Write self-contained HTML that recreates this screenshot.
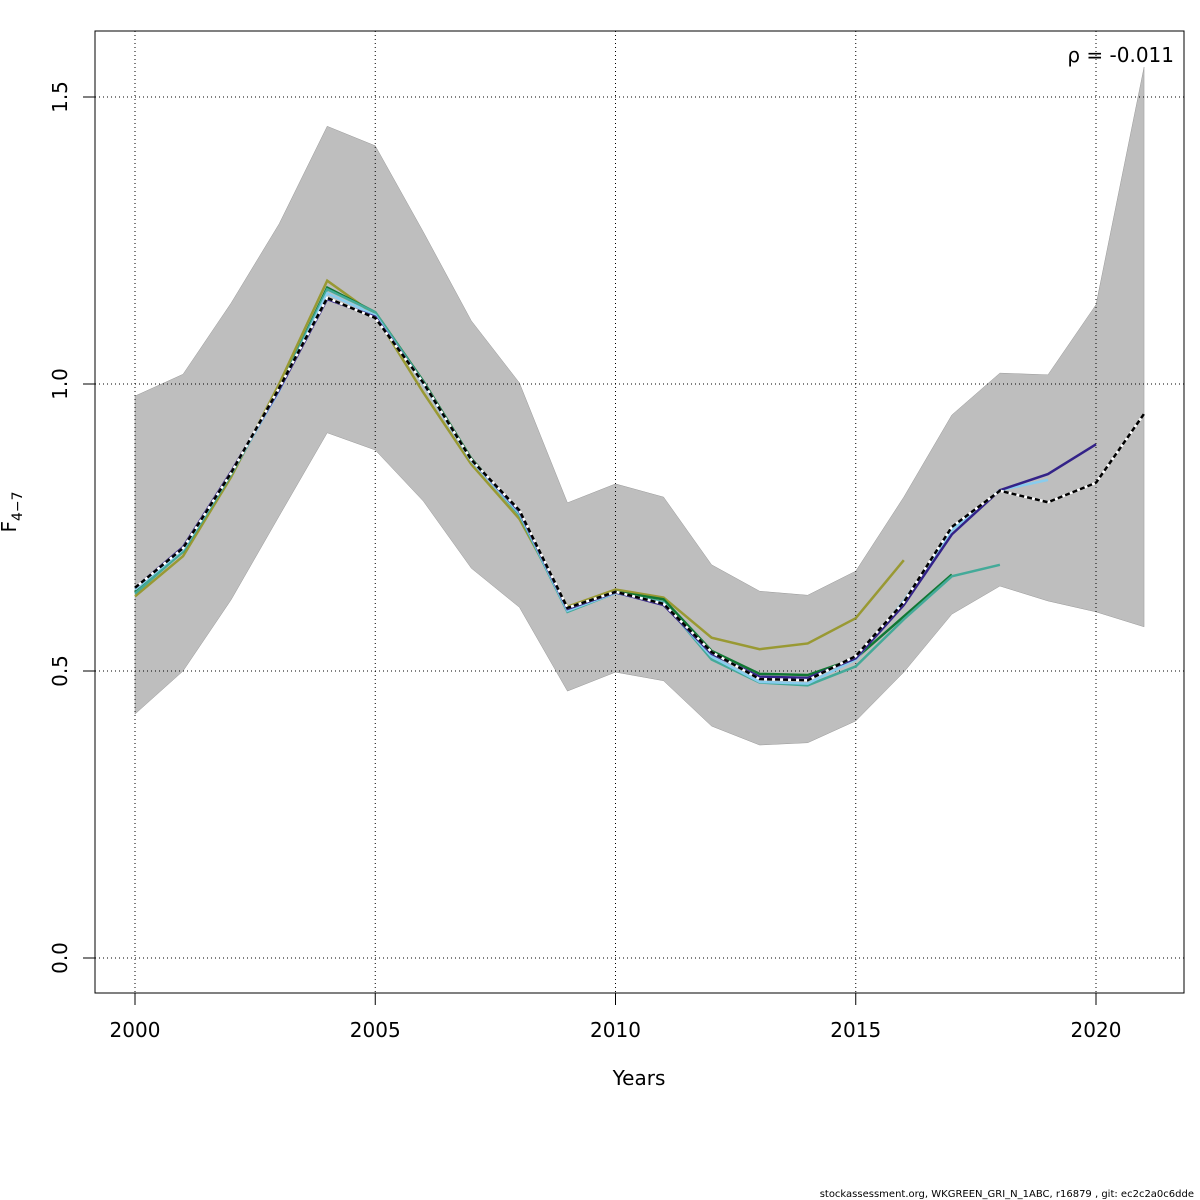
<!DOCTYPE html>
<html><head><meta charset="utf-8"><style>
body{margin:0;background:#fff}
svg{display:block;font-family:"DejaVu Sans","Liberation Sans",sans-serif}
</style></head><body>
<svg id="c" width="1200" height="1200"></svg>
<script>
const years=[2000,2001,2002,2003,2004,2005,2006,2007,2008,2009,2010,2011,2012,2013,2014,2015,2016,2017,2018,2019,2020,2021];
const bandUpper=[0.979,1.017,1.141,1.279,1.449,1.415,1.265,1.110,1.002,0.793,0.826,0.803,0.685,0.639,0.632,0.674,0.803,0.946,1.019,1.016,1.138,1.552];
const bandLower=[0.425,0.500,0.624,0.770,0.915,0.885,0.796,0.679,0.611,0.465,0.498,0.483,0.404,0.371,0.375,0.413,0.498,0.599,0.648,0.622,0.603,0.577];
const baseF=[0.645,0.714,0.845,0.993,1.150,1.115,1.002,0.868,0.780,0.610,0.638,0.617,0.533,0.486,0.484,0.526,0.620,0.751,0.814,0.794,0.828,0.948];
const peel1=[0.645,0.716,0.847,0.990,1.148,1.117,1.002,0.868,0.778,0.608,0.637,0.615,0.530,0.490,0.488,0.522,0.615,0.738,0.815,0.843,0.895];
const peel2=[0.642,0.712,0.845,0.988,1.158,1.120,1.000,0.866,0.775,0.605,0.636,0.618,0.525,0.481,0.478,0.520,0.622,0.745,0.815,0.833];
const peel3=[0.635,0.708,0.843,0.990,1.165,1.125,1.003,0.868,0.772,0.603,0.636,0.620,0.520,0.480,0.475,0.508,0.590,0.665,0.685];
const peel4=[0.638,0.708,0.843,0.990,1.168,1.125,1.005,0.870,0.775,0.607,0.638,0.625,0.535,0.495,0.493,0.522,0.595,0.668];
const peel5=[0.630,0.700,0.838,1.000,1.180,1.120,0.985,0.860,0.765,0.612,0.642,0.628,0.558,0.538,0.548,0.592,0.693];
const xTicks=[2000,2005,2010,2015,2020];
const yTicks=[0,0.5,1.0,1.5];
const yTickLabels=["0.0","0.5","1.0","1.5"];
const peelColors=["#332288","#88CCEE","#44AA99","#117733","#999933"];
const NS="http://www.w3.org/2000/svg";
const svg=document.getElementById('c');
const X=y=>135+(y-2000)*48.05;
const Y=v=>958-v*574;
function mk(t,a,p){const e=document.createElementNS(NS,t);for(const k in a)e.setAttribute(k,a[k]);(p||svg).appendChild(e);return e;}
// band
let pts=years.map((y,i)=>X(y)+','+Y(bandUpper[i]));
for(let i=years.length-1;i>=0;i--)pts.push(X(years[i])+','+Y(bandLower[i]));
const band=mk('polygon',{points:pts.join(' '),fill:'#bebebe',stroke:'#999','stroke-width':0.5});


// grid
xTicks.forEach(t=>{const g=mk('line',{x1:X(t),x2:X(t),y1:31,y2:993,stroke:'#000','stroke-width':1,'stroke-dasharray':'1,3'});

});
yTicks.forEach(t=>{const g=mk('line',{x1:95,x2:1184,y1:Y(t),y2:Y(t),stroke:'#000','stroke-width':1,'stroke-dasharray':'1,3'});

});
function line(arr,color,name,w,dash){
 const p=mk('polyline',{points:arr.map((v,i)=>X(years[i])+','+Y(v)).join(' '),fill:'none',stroke:color,'stroke-width':w});
 if(dash)p.setAttribute('stroke-dasharray',dash);
 
 
}
[peel5,peel4,peel3,peel2,peel1].forEach((s,k)=>line(s,peelColors[4-k],'peel-line-'+(5-k),2.5));
line(baseF,'#fff','base-line-under',2.5);
line(baseF,'#000','base-line',2.5,'5,3');
// box
const box=mk('rect',{x:95,y:31,width:1089,height:962,fill:'none',stroke:'#000','stroke-width':1});


xTicks.forEach(t=>{mk('line',{x1:X(t),x2:X(t),y1:993,y2:1005,stroke:'#000'});
const tx=mk('text',{x:X(t),y:1037,'font-size':20,'text-anchor':'middle'});tx.textContent=t;

});
yTicks.forEach((t,i)=>{mk('line',{x1:83,x2:95,y1:Y(t),y2:Y(t),stroke:'#000'});
const tx=mk('text',{x:67,y:Y(t),'font-size':20,'text-anchor':'middle',transform:`rotate(-90 67 ${Y(t)})`});tx.textContent=yTickLabels[i];

});
</script>
<svg width="1200" height="1200" style="position:absolute;left:0;top:0;font-family:'DejaVu Sans','Liberation Sans',sans-serif">
<text x="639" y="1085" font-size="20" text-anchor="middle">Years</text>
<text transform="translate(16,512) rotate(-90)" font-size="20" text-anchor="middle">F<tspan font-size="14" dy="6">4−7</tspan></text>
<text x="1174" y="62" font-size="20" text-anchor="end">ρ = -0.011</text>
<text x="1194" y="1197" font-size="10" text-anchor="end">stockassessment.org, WKGREEN_GRI_N_1ABC, r16879 , git: ec2c2a0c6dde</text>
</svg>
</body></html>
